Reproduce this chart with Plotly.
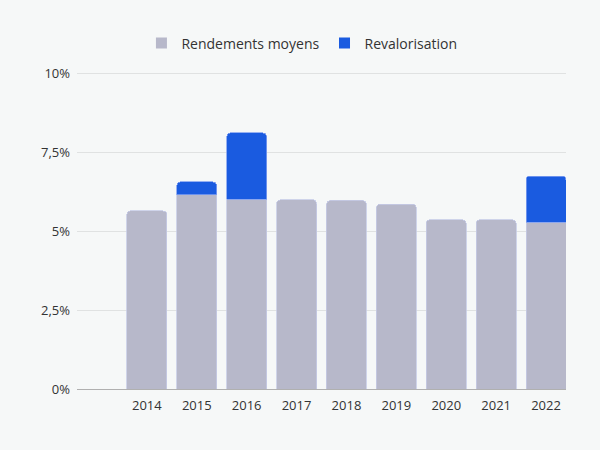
import plotly.graph_objects as go

years = ["2014", "2015", "2016", "2017", "2018", "2019", "2020", "2021", "2022"]
rendements = [5.65, 6.16, 6.02, 6.0, 5.98, 5.86, 5.37, 5.37, 5.28]
revalorisation = [None, 0.41, 2.10, None, None, None, None, None, 1.47]
y_tickvals = [0, 2.5, 5, 7.5, 10]
y_ticktext = ["0%", "2,5%", "5%", "7,5%", "10%"]

GRAY = "#b7b8ca"
BLUE = "#1a5be0"
FONT = "Open Sans"

fig = go.Figure()
fig.add_trace(go.Bar(
    x=years, y=rendements, name="Rendements moyens", showlegend=False,
    marker=dict(color=GRAY, line=dict(color="#c6cbe6", width=0.8)),
))
fig.add_trace(go.Bar(
    x=years, y=revalorisation, name="Revalorisation", showlegend=False,
    marker=dict(color=BLUE, line=dict(color="#7f9ff0", width=0.8)),
))
# legend-only entries with square symbols
fig.add_trace(go.Scatter(
    x=[None], y=[None], mode="markers", name="Rendements moyens",
    marker=dict(symbol="square", size=11, color=GRAY),
))
fig.add_trace(go.Scatter(
    x=[None], y=[None], mode="markers", name="Revalorisation",
    marker=dict(symbol="square", size=11, color=BLUE),
))

fig.update_layout(
    barmode="stack",
    bargap=0.2,
    barcornerradius=4,
    width=600, height=450,
    paper_bgcolor="#f6f8f8",
    plot_bgcolor="#f6f8f8",
    margin=dict(l=77, r=34, t=72, b=61),
    font=dict(family=FONT, size=13, color="#333333"),
    legend=dict(
        orientation="h", x=0.46, xanchor="center",
        y=1.09, yanchor="middle",
        font=dict(size=14, color="#333333"),
        itemwidth=30, traceorder="normal",
    ),
    xaxis=dict(
        type="category", range=[-1.4, 8.4],
        showgrid=False, showline=True, linecolor="#b0b0b0", linewidth=1,
        ticks="", ticklabelstandoff=4,
        tickfont=dict(size=13, color="#333333"),
    ),
    yaxis=dict(
        range=[0, 10.05], tickvals=y_tickvals, ticktext=y_ticktext,
        showgrid=True, gridcolor="#e0e2e2", gridwidth=1,
        zeroline=False, showline=False, ticks="",
        ticklabelstandoff=6,
        tickfont=dict(size=13, color="#333333"),
    ),
    showlegend=True,
)

fig.write_html("out.html", config={"displayModeBar": False},
               post_script="document.body.style.margin='0';")
